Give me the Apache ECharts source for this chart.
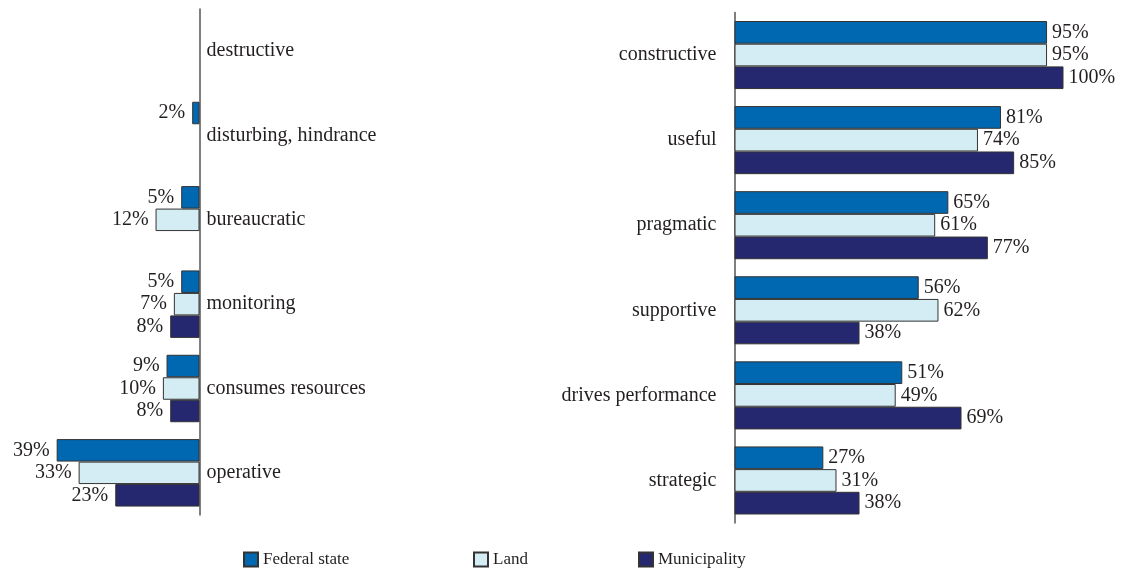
<!DOCTYPE html>
<html>
<head>
<meta charset="utf-8">
<script src="https://cdn.jsdelivr.net/npm/echarts@6/dist/echarts.min.js"></script>
<style>
  html, body { margin: 0; padding: 0; background: #fff; }
  #main { width: 1123px; height: 574px; }
</style>
</head>
<body>
<div id="main"></div>
<script>
  // negative attributes (left panel)
  var leftCats = ['destructive', 'disturbing, hindrance', 'bureaucratic', 'monitoring', 'consumes resources', 'operative'];
  var leftFederal = [null, 2, 5, 5, 9, 39];
  var leftLand = [null, null, 12, 7, 10, 33];
  var leftMunicipality = [null, null, null, 8, 8, 23];

  // positive attributes (right panel)
  var rightCats = ['constructive', 'useful', 'pragmatic', 'supportive', 'drives performance', 'strategic'];
  var rightFederal = [95, 81, 65, 56, 51, 27];
  var rightLand = [95, 74, 61, 62, 49, 31];
  var rightMunicipality = [100, 85, 77, 38, 69, 38];

  var names = ['Federal state', 'Land', 'Municipality'];
  var colors = ['#0068b1', '#d4edf4', '#26286f'];

  var font = 'Liberation Serif';
  var txt = '#231f20';

  var chart = echarts.init(document.getElementById('main'));

  function barSeries(name, color, data, idx, side) {
    return {
      name: name,
      type: 'bar',
      xAxisIndex: idx,
      yAxisIndex: idx,
      data: data,
      barGap: '0%',
      barCategoryGap: '20%',
      itemStyle: { color: color, borderColor: '#333', borderWidth: 1 },
      label: {
        show: true,
        position: side,
        distance: side === 'left' ? 7 : 5,
        formatter: '{c}%',
        fontFamily: font,
        fontSize: 20,
        color: txt
      },
      emphasis: { disabled: true },
      animation: false
    };
  }

  var legends = [238, 468, 633].map(function (x, i) {
    return {
      data: [names[i]],
      left: x,
      top: 546,
      icon: 'rect',
      itemWidth: 14,
      itemHeight: 14,
      itemGap: 5,
      textStyle: { fontFamily: font, fontSize: 17, color: txt }
    };
  });

  var option = {
    backgroundColor: '#fff',
    color: colors,
    legend: legends,
    grid: [
      { left: 53, right: 923.5, top: 9, bottom: 59 },
      { left: 734.5, right: 59.5, top: 12.5, bottom: 51 }
    ],
    xAxis: [
      { type: 'value', gridIndex: 0, min: 0, max: 40, inverse: true, show: false },
      { type: 'value', gridIndex: 1, min: 0, max: 100, show: false }
    ],
    yAxis: [
      {
        type: 'category', gridIndex: 0, data: leftCats, inverse: true, position: 'right',
        axisLine: { show: true, lineStyle: { color: '#555', width: 1.5 } },
        axisTick: { show: false },
        axisLabel: { margin: 7, fontFamily: font, fontSize: 20, color: txt }
      },
      {
        type: 'category', gridIndex: 1, data: rightCats, inverse: true, position: 'left',
        axisLine: { show: true, lineStyle: { color: '#555', width: 1.5 } },
        axisTick: { show: false },
        axisLabel: { margin: 18, fontFamily: font, fontSize: 20, color: txt }
      }
    ],
    series: [
      barSeries(names[0], colors[0], leftFederal, 0, 'left'),
      barSeries(names[1], colors[1], leftLand, 0, 'left'),
      barSeries(names[2], colors[2], leftMunicipality, 0, 'left'),
      barSeries(names[0], colors[0], rightFederal, 1, 'right'),
      barSeries(names[1], colors[1], rightLand, 1, 'right'),
      barSeries(names[2], colors[2], rightMunicipality, 1, 'right')
    ]
  };

  option && chart.setOption(option);
</script>
</body>
</html>
